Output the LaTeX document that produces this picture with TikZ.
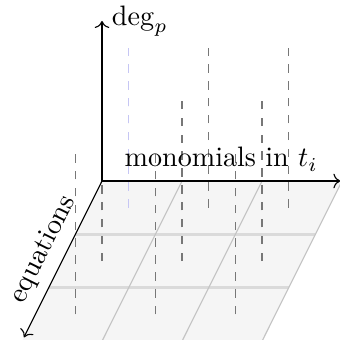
\documentclass[tikz,border=0pt]{standalone}
\usepackage{amsmath}
\usepackage{tikz}
\usetikzlibrary{arrows.meta,positioning}
\definecolor{sheet}{HTML}{F5F5F5}
\definecolor{rule}{HTML}{DADADA}
\definecolor{seam}{HTML}{C4C4C4}
\definecolor{stemgray}{HTML}{777777}
\definecolor{pick}{HTML}{C6C6F4}

\begin{document}
\begin{tikzpicture}[x={(1cm,0cm)},y={(0cm,1cm)},z={(-0.333cm,-0.667cm)},
  stem/.style={dashed,line width=0.5pt}]
  \useasboundingbox (-1.275,-1.9875) rectangle (2.975,2.2625);
  % one column of height deg_p over every cell of equations x monomials
  \coordinate (O) at (0,0,0);
  \coordinate (monos) at (2.98,0,0);
  \coordinate (degs) at (0,2,0);
  \coordinate (eqns) at (0,0,2.93);
  \fill[sheet] (0,0,0) -- (3,0,0) -- (3,0,3) -- (0,0,3) -- cycle;
  \foreach \j in {1,2}{
    \draw[rule,line width=0.9pt] (0,0,\j) -- (3,0,\j);}
  \foreach \i in {1,2,3}{
    \draw[seam,line width=0.4pt] (\i,0,0) -- (\i,0,3);}
  \foreach \i in {0,1,2}{
    \foreach \j in {0,1,2}{
      \draw[stem,stemgray] (\i+0.5,0,\j+0.5) -- (\i+0.5,2,\j+0.5);}}
  \draw[stem,pick] (0.5,0,0.5) -- (0.5,2,0.5);
  \draw[->] (O) -- (degs) node[right] {$\deg_p$};
  \draw[->] (O) -- (monos) node[midway,above] {monomials in $t_i$};
  \draw[->] (O) -- (eqns) node[midway,above,sloped] {equations};
\end{tikzpicture}
\end{document}
